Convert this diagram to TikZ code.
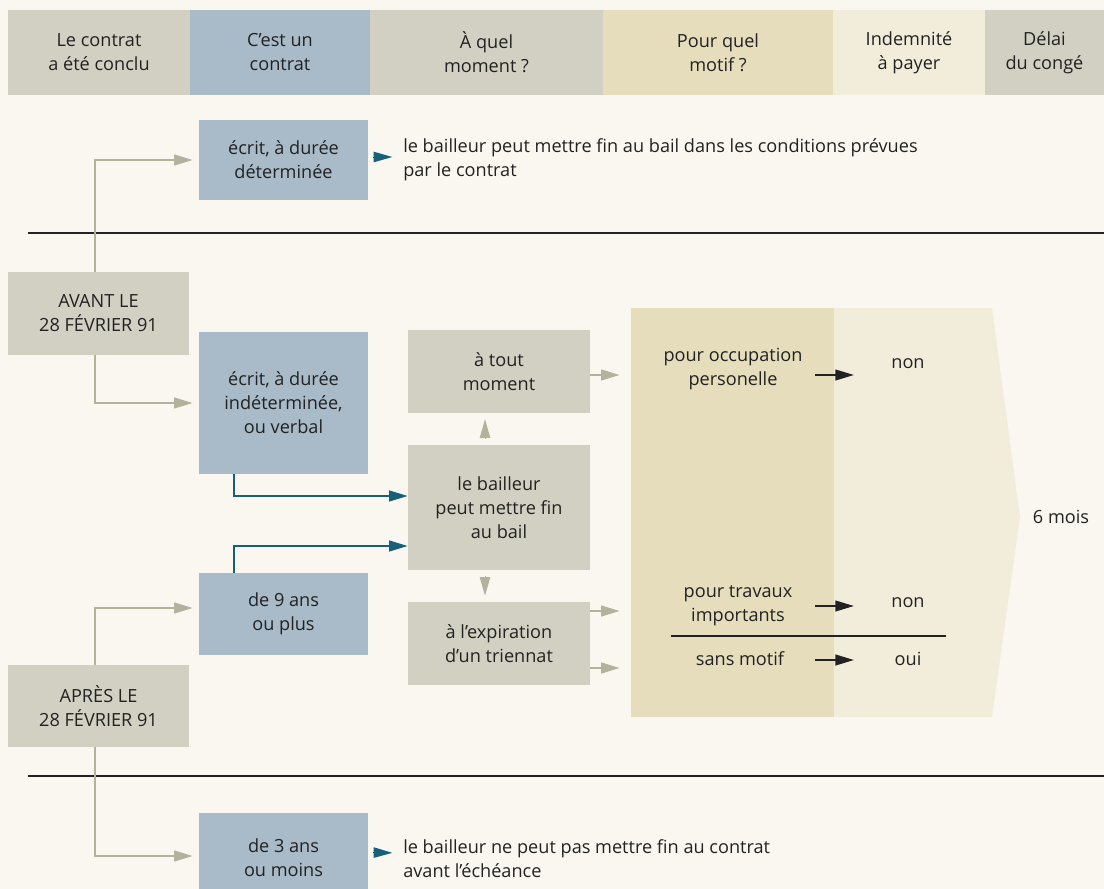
\documentclass[tikz,border=0pt]{standalone}
\usepackage{fontspec}
\setmainfont{Open Sans}
\usetikzlibrary{arrows.meta,calc}
\definecolor{bgc}{HTML}{F9F7EF}
\definecolor{grayb}{HTML}{D2D0C3}
\definecolor{blueb}{HTML}{A9BAC8}
\definecolor{beigeb}{HTML}{E5DDBB}
\definecolor{lightb}{HTML}{F2EDDB}
\definecolor{garrc}{HTML}{B3B39C}
\definecolor{tealc}{HTML}{17607A}
\definecolor{txtc}{HTML}{222222}
\definecolor{rulec}{HTML}{222222}
\begin{document}
\begin{tikzpicture}[x=0.75pt,y=-0.75pt,
  font=\fontsize{13.6}{18}\selectfont, text=txtc,
  sz/.style 2 args={minimum width=#1*0.75pt, minimum height=#2*0.75pt},
  cell/.style={rectangle, inner sep=0pt, align=center},
  txt/.style={inner sep=0pt, align=center},
  garr/.style={draw=garrc, line width=1.7pt, -{Triangle[length=14pt,width=8pt]}},
  tarr/.style={draw=tealc, line width=1.7pt, -{Triangle[length=14pt,width=8pt]}},
  karr/.style={draw=rulec, line width=1.5pt, -{Triangle[length=14pt,width=8pt]}},
  rule/.style={draw=rulec, line width=1.7pt}]
\clip (0,0) rectangle (1104,889);
\fill[bgc] (0,0) rectangle (1104,889);

% header
\node[cell, fill=grayb, sz={182}{85}] (h1) at (99,52.5) {Le contrat\\a été conclu};
\node[cell, fill=blueb, sz={180}{85}] (h2) at (280,52.5) {C'est un\\contrat};
\node[cell, fill=grayb, sz={233}{85}] (h3) at (486.5,52.5) {À quel\\moment ?};
\node[cell, fill=beigeb, sz={230}{85}] (h4) at (718,52.5) {Pour quel\\motif ?};
\node[cell, fill=lightb, sz={152}{85}] (h5) at (909,52.5) {Indemnité\\à payer};
\node[cell, fill=grayb, sz={119}{85}] (h6) at (1044.5,52.5) {Délai\\du congé};

% separator rules
\draw[rule] (28,233) -- (1104,233);
\draw[rule] (28,776) -- (1104,776);

% right panel
\fill[lightb] (820,308) -- (992,308) -- (1020,517) -- (992,717) -- (820,717) -- cycle;
\node[cell, fill=beigeb, sz={203}{409}] (pb) at (732.5,512.5) {};
\draw[rule] (671,636) -- (946,636);

% left boxes
\coordinate (sp) at (95,0);
\coordinate (tx) at (234,0);
\node[cell, fill=blueb, sz={169}{80}] (b1) at (283.5,160) {écrit, à durée\\déterminée};
\node[cell, fill=grayb, sz={181}{83}] (av) at (98.5,313.5) {AVANT LE\\28 FÉVRIER 91};
\node[cell, fill=blueb, sz={169}{142}] (b2) at (283.5,403) {écrit, à durée\\indéterminée,\\ou verbal};
\node[cell, fill=blueb, sz={169}{82}] (b3) at (283.5,614) {de 9 ans\\ou plus};
\node[cell, fill=grayb, sz={181}{82}] (ap) at (98.5,706) {APRÈS LE\\28 FÉVRIER 91};
\node[cell, fill=blueb, sz={169}{89}] (b4) at (283.5,857.5) {de 3 ans\\ou moins};

% middle boxes
\node[cell, fill=grayb, sz={182}{83}] (m1) at (499,371.5) {à tout\\moment};
\node[cell, fill=grayb, sz={182}{125}] (m2) at (499,507.5) {le bailleur\\peut mettre fin\\au bail};
\node[cell, fill=grayb, sz={182}{83}] (m3) at (499,643.5) {à l’expiration\\d’un triennat};

% side texts
\node[txt, anchor=west, align=left] (t1) at (403,160) {le bailleur peut mettre fin au bail dans les conditions prévues\\par le contrat};
\node[txt, anchor=west, align=left] (t2) at (403,859) {le bailleur ne peut pas mettre fin au contrat\\avant l’échéance};

% panel texts
\node[txt] (o1) at (733,369) {pour occupation\\personelle};
\node[txt] (o2) at (738,606) {pour travaux\\importants};
\node[txt] (o3) at (740,659) {sans motif};
\node[txt] (n1) at (908,364) {non};
\node[txt] (n2) at (908,603) {non};
\node[txt] (n3) at (908,659) {oui};
\node[txt] (six) at (1061,517) {6 mois};

% gray connectors from date boxes
\draw[garr, shorten >=4.5pt] (av.north -| sp) |- (b1.west);
\draw[garr, shorten >=4.5pt] (av.south -| sp) |- (b2.west);
\draw[garr, shorten >=4.5pt] (ap.north -| sp) |- ($(b3.west)+(0,-6)$);
\draw[garr, shorten >=4.5pt] (ap.south -| sp) |- ($(b4.west)+(0,-1.5)$);

% teal connectors
\draw[tarr] (b2.south -| tx) |- ($(m2.west)+(0,-11.5)$);
\draw[tarr] (b3.north -| tx) |- ($(m2.west)+(0,38.5)$);
\draw[tarr, line width=0pt, shorten <=3.75pt, shorten >=8pt] ($(b1.east)+(0,-3)$) -- ($(t1.west)+(0,-3)$);
\draw[tarr, line width=0pt, shorten <=3.75pt, shorten >=8pt] ($(b4.east)+(0,-5)$) -- ($(t2.west)+(0,-6)$);

% gray tips between middle boxes
\draw[garr, line width=0pt, shorten <=5pt, shorten >=4.5pt] ($(m2.north)+(-14,0)$) -- ($(m1.south)+(-14,0)$);
\draw[garr, line width=0pt, shorten <=5pt, shorten >=4.5pt] ($(m2.south)+(-14,0)$) -- ($(m3.north)+(-14,0)$);

% gray arrows to panel
\draw[garr, shorten >=8.25pt] ($(m1.east)+(0,3.5)$) -- ($(m1.east -| pb.west)+(0,3.5)$);
\draw[garr, shorten >=8.25pt] ($(m3.east)+(0,-32.5)$) -- ($(m3.east -| pb.west)+(0,-32.5)$);
\draw[garr, shorten >=8.25pt] ($(m3.east)+(0,24.5)$) -- ($(m3.east -| pb.west)+(0,24.5)$);

% black arrows in panel
\coordinate (a1s) at (815,375); \coordinate (a1e) at (854,375);
\coordinate (a2s) at (815,606); \coordinate (a2e) at (854,606);
\coordinate (a3s) at (815,660); \coordinate (a3e) at (854,660);
\draw[karr] (a1s) -- (a1e);
\draw[karr] (a2s) -- (a2e);
\draw[karr] (a3s) -- (a3e);
\end{tikzpicture}
\end{document}
